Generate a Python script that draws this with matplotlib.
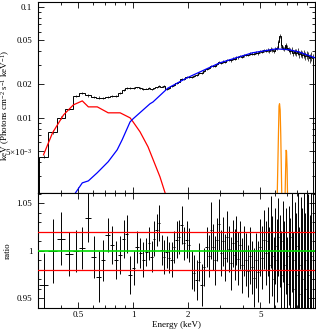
import numpy as np
import matplotlib.pyplot as plt
from matplotlib.ticker import FixedLocator, MultipleLocator, NullFormatter, LogLocator

plt.rcParams['font.family'] = ['Liberation Serif', 'DejaVu Serif']
plt.rcParams['mathtext.fontset'] = 'custom'
plt.rcParams['mathtext.rm'] = 'Liberation Serif'
plt.rcParams['mathtext.it'] = 'Liberation Serif:italic'
plt.rcParams['font.size'] = 6.5

# soft component (red)
red_e = [0.322, 0.361, 0.415, 0.470, 0.526, 0.568, 0.636, 0.730, 0.849, 0.963, 1.0,
         1.092, 1.208, 1.405, 1.50]
red_f = [0.00464, 0.00733, 0.01064, 0.0131, 0.01422, 0.01256, 0.01256, 0.0111, 0.0111,
         0.0100, 0.0092, 0.00748, 0.00548, 0.00294, 0.0021]

# hard continuum (blue)
blue_e = [0.482, 0.526, 0.568, 0.636, 0.730, 0.818, 0.871, 0.963, 1.0, 1.239, 1.286,
          1.55, 1.973, 2.988, 4.52, 6.12, 7.20, 8.17, 10.0]
blue_f = [0.0021, 0.00259, 0.0027, 0.0032, 0.00402, 0.00515, 0.00634, 0.0092, 0.0098,
          0.0134, 0.0139, 0.0185, 0.0229, 0.0313, 0.0386, 0.0419, 0.0412, 0.0393, 0.0348]

# iron lines (orange)
line1_e = [6.10, 6.20, 6.28, 6.34, 6.38, 6.43, 6.48, 6.56, 6.66]
line1_f = [0.0008, 0.0021, 0.006, 0.0128, 0.0134, 0.0118, 0.007, 0.0021, 0.0008]
line2_e = [6.76, 6.82, 6.88, 6.93, 6.97, 7.02, 7.08, 7.14]
line2_f = [0.0008, 0.0015, 0.003, 0.0051, 0.0050, 0.0035, 0.0015, 0.0008]

# data bins: centre energy (keV), data/model ratio and 1-sigma error
bin_e = [0.322, 0.363, 0.404, 0.447, 0.488, 0.527, 0.564, 0.608, 0.648, 0.681, 0.726,
         0.763, 0.802, 0.849, 0.887, 0.921, 0.963, 1.006,
         1.052, 1.092, 1.134, 1.178, 1.223, 1.270, 1.303, 1.352, 1.387, 1.440, 1.477,
         1.534, 1.573, 1.634, 1.675, 1.740, 1.784, 1.853, 1.900, 1.973, 2.023, 2.101,
         2.154, 2.237, 2.294, 2.383, 2.443, 2.537,
         2.602, 2.669, 2.736, 2.806, 2.877, 2.951, 3.026, 3.103, 3.182, 3.264, 3.346,
         3.431, 3.519, 3.610, 3.701, 3.795, 3.893, 3.992, 4.093, 4.198, 4.305, 4.414,
         4.526, 4.642, 4.760, 4.881, 5.006, 5.133, 5.264, 5.398,
         5.500, 5.605, 5.712, 5.821, 5.932, 6.045, 6.161, 6.278, 6.398, 6.520, 6.645,
         6.771, 6.900, 7.031, 7.165, 7.302, 7.441, 7.583, 7.727, 7.875, 8.025, 8.178,
         8.334, 8.492, 8.654, 8.819, 8.987, 9.157, 9.331, 9.509, 9.690]
ratio = [0.964, 1.000, 1.013, 0.997, 1.000, 1.003, 1.035, 0.994, 0.973, 0.990, 1.017,
         1.006, 0.990, 0.996, 1.013, 1.018, 0.975, 0.982,
         1.004, 0.998, 0.991, 0.999, 1.008, 0.994, 1.013, 1.022, 1.029, 1.001, 0.994,
         0.999, 0.993, 0.991, 1.004, 1.012, 1.015, 1.027, 1.008, 1.012, 1.006, 0.980,
         0.977, 0.969, 0.988, 0.964, 0.983, 1.004,
         0.995, 1.022, 1.004, 0.990, 1.012, 1.028, 0.998, 1.010, 0.993, 1.015, 1.002,
         0.987, 1.008, 0.996, 1.011, 0.992, 1.006, 0.985, 1.000, 0.991, 0.979, 0.995,
         0.983, 0.972, 0.990, 0.978, 1.004, 0.993, 1.012, 0.998,
         1.010, 0.985, 1.020, 0.995, 0.970, 1.005, 0.990, 1.015, 1.000, 0.975, 1.010,
         0.985, 1.000, 0.965, 0.995, 0.980, 1.015, 0.960, 0.990, 0.975, 1.005, 0.955,
         0.985, 0.970, 1.000, 0.960, 0.990, 0.975, 0.950, 0.995, 0.970]
ratio_err = [0.034, 0.034, 0.028, 0.023, 0.022, 0.022, 0.026, 0.022, 0.027, 0.022, 0.018,
             0.020, 0.020, 0.020, 0.020, 0.020, 0.020, 0.018,
             0.017, 0.016, 0.018, 0.015, 0.017, 0.016, 0.018, 0.017, 0.019, 0.016, 0.018,
             0.017, 0.016, 0.018, 0.017, 0.019, 0.018, 0.020, 0.017, 0.019, 0.018, 0.020,
             0.019, 0.021, 0.020, 0.022, 0.020, 0.021,
             0.022, 0.030, 0.024, 0.026, 0.023, 0.027, 0.024, 0.026, 0.025, 0.027, 0.024,
             0.028, 0.025, 0.027, 0.026, 0.028, 0.025, 0.029, 0.026, 0.028, 0.027, 0.030,
             0.028, 0.031, 0.029, 0.032, 0.030, 0.033, 0.031, 0.034,
             0.036, 0.040, 0.038, 0.042, 0.045, 0.040, 0.044, 0.041, 0.038, 0.046, 0.043,
             0.047, 0.045, 0.050, 0.052, 0.055, 0.058, 0.060, 0.062, 0.065, 0.068, 0.070,
             0.072, 0.075, 0.078, 0.080, 0.083, 0.085, 0.088, 0.090, 0.095]


def loginterp(x, xp, fp):
    x = np.asarray(x)
    out = 10 ** np.interp(np.log10(x), np.log10(xp), np.log10(fp))
    out[(x < xp[0]) | (x > xp[-1])] = 0.0
    return out


e = np.array(bin_e)
r = np.array(ratio)
rerr = np.array(ratio_err)
mids = np.sqrt(e[:-1] * e[1:])
edges = np.concatenate([[e[0] ** 2 / mids[0]], mids, [e[-1] ** 2 / mids[-1]]])

model = (loginterp(e, red_e, red_f) + loginterp(e, blue_e, blue_f)
         + np.interp(e, line1_e, line1_f, left=0, right=0)
         + np.interp(e, line2_e, line2_f, left=0, right=0))
data = model * r
data_err = model * rerr

fig = plt.figure(figsize=(3.16, 3.31), dpi=100)
ax1 = fig.add_axes([0.120, 0.417, 0.877, 0.577])
ax2 = fig.add_axes([0.120, 0.0695, 0.877, 0.3475], sharex=ax1)

# top panel
ax1.stairs(data, edges, color='k', lw=0.7)
ax1.vlines(e, data - data_err, data + data_err, color='k', lw=0.5)
ax1.plot(red_e, red_f, color='#ff0000', lw=0.9)
ax1.plot(blue_e, blue_f, color='#0000ff', lw=0.9)
ax1.plot(line1_e, line1_f, color='#ff8c00', lw=0.9)
ax1.plot(line2_e, line2_f, color='#ff8c00', lw=0.9)
ax1.set_xscale('log')
ax1.set_yscale('log')
ax1.set_xlim(0.3, 10)
ax1.set_ylim(0.0021, 0.111)
ax1.yaxis.set_major_locator(FixedLocator([0.005, 0.01, 0.02, 0.05, 0.1]))
ax1.set_yticklabels([r'5$\times$10$^{-3}$', '0.01', '0.02', '0.05', '0.1'])
ax1.yaxis.set_minor_locator(LogLocator(subs=np.arange(2, 10)))
ax1.yaxis.set_minor_formatter(NullFormatter())
ax1.tick_params(axis='x', labelbottom=False)
ax1.set_ylabel(r'keV (Photons cm$^{-2}$ s$^{-1}$ keV$^{-1}$)')
ax1.yaxis.set_label_coords(-0.093, 0.46)

# bottom panel
ax2.errorbar(e, r, yerr=rerr, xerr=[e - edges[:-1], edges[1:] - e],
             fmt='none', ecolor='k', elinewidth=0.7)
ax2.axhline(1.0, color='#00dd00', lw=1.2, zorder=5)
ax2.axhline(1.02, color='#ff0000', lw=0.9, zorder=5)
ax2.axhline(0.98, color='#ff0000', lw=0.9, zorder=5)
ax2.set_ylim(0.94, 1.061)
ax2.yaxis.set_major_locator(FixedLocator([0.95, 1.0, 1.05]))
ax2.set_yticklabels(['0.95', '1', '1.05'])
ax2.yaxis.set_minor_locator(MultipleLocator(0.01))
ax2.xaxis.set_major_locator(FixedLocator([0.5, 1, 2, 5]))
ax2.set_xticklabels(['0.5', '1', '2', '5'])
ax2.xaxis.set_minor_locator(LogLocator(subs=np.arange(2, 10)))
ax2.xaxis.set_minor_formatter(NullFormatter())
ax2.set_xlabel('Energy (keV)', labelpad=1)
ax2.set_ylabel('ratio')
ax2.yaxis.set_label_coords(-0.093, 0.5)

for ax in (ax1, ax2):
    ax.tick_params(which='both', direction='in', top=True, right=True, width=0.6,
                   labelsize=6.5, pad=4)
    ax.tick_params(which='major', length=4)
    ax.tick_params(which='minor', length=2)
    for s in ax.spines.values():
        s.set_linewidth(0.8)
ax2.tick_params(axis='x', pad=2.5)

fig.savefig('out.png', dpi=100)
